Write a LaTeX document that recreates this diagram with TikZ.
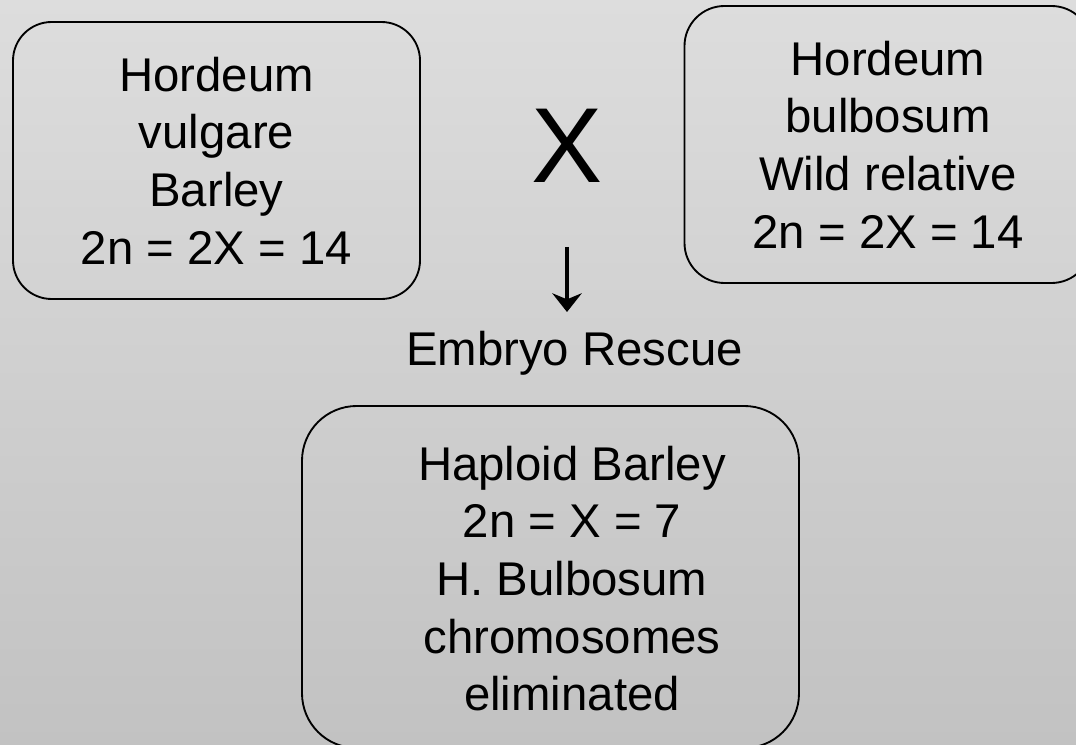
\documentclass[tikz,border=0pt]{standalone}
\usepackage{fontspec}
\setmainfont{Liberation Sans}
\usetikzlibrary{arrows.meta}
\definecolor{bgtop}{RGB}{221,221,221}
\definecolor{bgbot}{RGB}{194,194,194}
\begin{document}
\begin{tikzpicture}[x=0.75pt,y=-0.75pt,
  boxstyle/.style={draw=black, line width=1.4pt, inner sep=0pt, align=center,
    font=\fontsize{35.5pt}{43.2pt}\selectfont},
  lbl/.style={inner sep=0pt, align=center, font=\fontsize{35.5pt}{43.2pt}\selectfont},
  arr/.style={line width=3pt, -{Stealth[length=14pt,width=22pt,inset=4.5pt]}}]
\useasboundingbox (0,0) rectangle (1076,745);
\shade[top color=bgtop,bottom color=bgbot] (0,0) rectangle (1076,745);
\clip (0,0) rectangle (1076,745);
\node[boxstyle, rounded corners=29pt, minimum width=305.25pt, minimum height=207.75pt] (b1) at (216.5,160.5)
  {Hordeum\\vulgare\\Barley\\2n = 2X = 14};
\node[boxstyle, rounded corners=30pt, minimum width=305.25pt, minimum height=207.75pt] (b2) at (888,144.5)
  {Hordeum\\bulbosum\\Wild relative\\2n = 2X = 14};
\node[boxstyle, rounded corners=41pt, minimum width=372.75pt, minimum height=256.5pt] (b3) at (550.5,577) {};
\node[lbl] (t3) at (572,578.5) {Haploid Barley\\2n = X = 7\\H. Bulbosum\\chromosomes\\eliminated};
\node[inner sep=0pt, anchor=base, font=\fontsize{80pt}{96pt}\selectfont] (x) at (567.5,183) {X};
\node[lbl, anchor=base] (er) at (574.5,366) {Embryo Rescue};
\coordinate (a1) at (567,247);
\coordinate (a2) at (567,312);
\draw[arr] (a1) -- (a2);
\end{tikzpicture}
\end{document}
